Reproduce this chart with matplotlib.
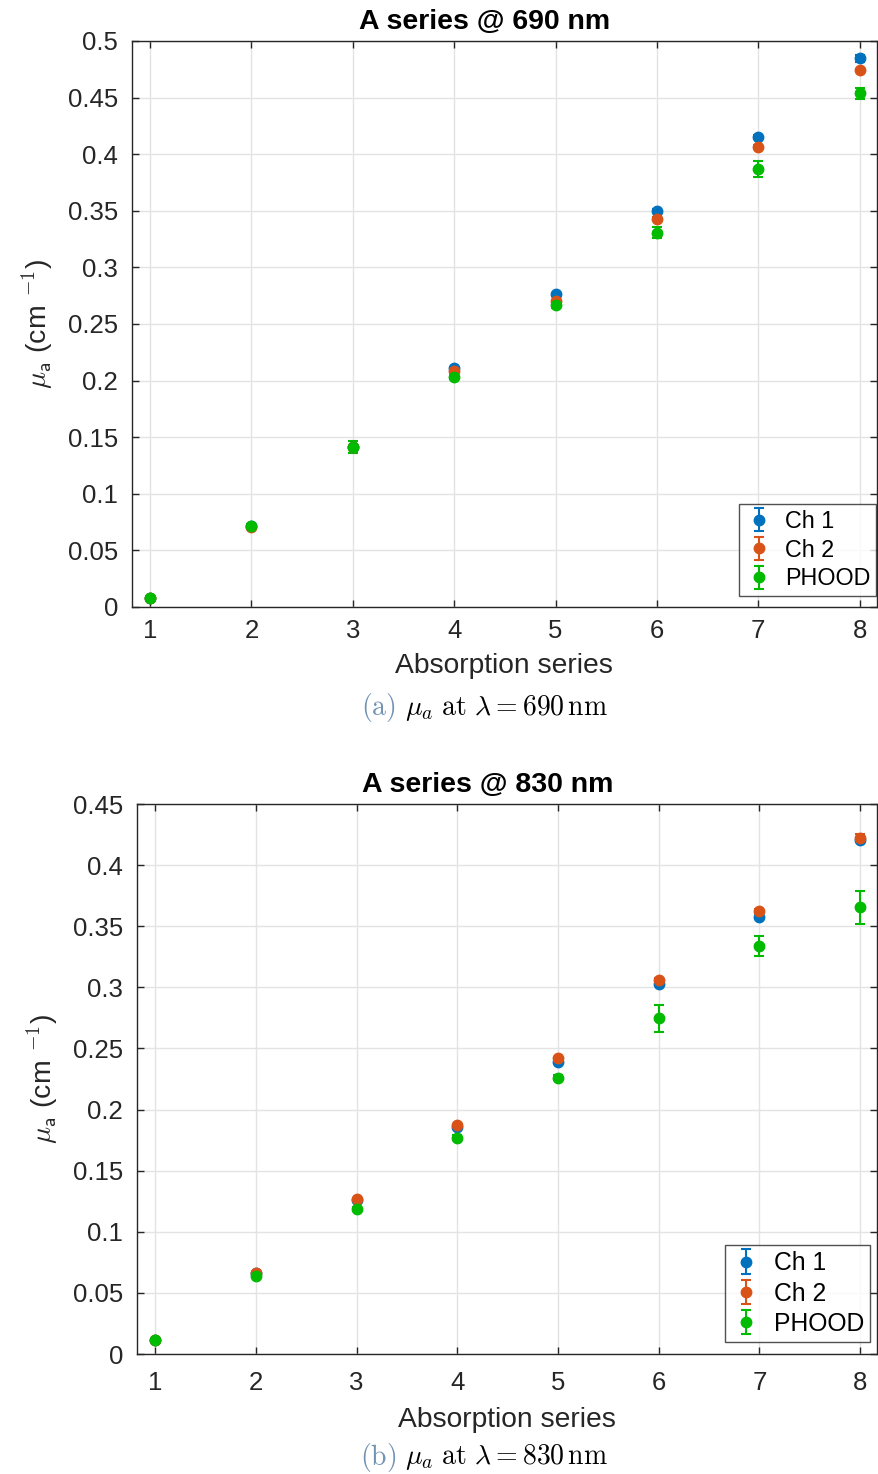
import numpy as np
import matplotlib
matplotlib.use("Agg")
import matplotlib.pyplot as plt
from matplotlib.ticker import FuncFormatter

plt.rcParams["font.family"] = ["Liberation Sans", "DejaVu Sans"]
plt.rcParams["mathtext.fontset"] = "cm"

series = [1, 2, 3, 4, 5, 6, 7, 8]
labels = ["Ch 1", "Ch 2", "PHOOD"]
colors = ["#0072BD", "#D95319", "#00BB00"]

# 690 nm
ch1_690 = [0.0082, 0.0716, 0.1413, 0.2108, 0.2762, 0.3500, 0.4155, 0.4847]
ch2_690 = [0.0080, 0.0707, 0.1410, 0.2088, 0.2703, 0.3430, 0.4066, 0.4740]
phood_690 = [0.0082, 0.0716, 0.1413, 0.2032, 0.2668, 0.3307, 0.3872, 0.4538]
ch1_690_err = [0.0005, 0.0008, 0.0010, 0.0010, 0.0012, 0.0012, 0.0015, 0.0030]
ch2_690_err = [0.0005, 0.0008, 0.0010, 0.0010, 0.0012, 0.0012, 0.0015, 0.0015]
phood_690_err = [0.0010, 0.0015, 0.0057, 0.0020, 0.0030, 0.0047, 0.0070, 0.0050]

# 830 nm
ch1_830 = [0.0112, 0.0660, 0.1260, 0.1855, 0.2392, 0.3031, 0.3580, 0.4206]
ch2_830 = [0.0112, 0.0666, 0.1268, 0.1874, 0.2422, 0.3060, 0.3625, 0.4225]
phood_830 = [0.0112, 0.0636, 0.1187, 0.1770, 0.2259, 0.2746, 0.3341, 0.3655]
ch1_830_err = [0.0005, 0.0008, 0.0010, 0.0010, 0.0012, 0.0015, 0.0020, 0.0020]
ch2_830_err = [0.0005, 0.0008, 0.0010, 0.0010, 0.0012, 0.0015, 0.0020, 0.0030]
phood_830_err = [0.0008, 0.0010, 0.0015, 0.0020, 0.0020, 0.0110, 0.0082, 0.0136]

fig = plt.figure(figsize=(8.79, 14.74), dpi=100)


def panel(rect, ys, errs, ymax, title, legend_anchor, legend_size,
          xpad, xlabelpad, titlepad):
    ax = fig.add_axes(rect)
    for y, e, c, lab in zip(ys, errs, colors, labels):
        ax.errorbar(series, y, yerr=e, fmt="o", color=c, ecolor=c,
                    markersize=7.5, capsize=3.5, elinewidth=1.5,
                    capthick=1.5, label=lab, zorder=3)
    ax.set_xlim(0.82, 8.17)
    ax.set_ylim(0, ymax)
    ax.set_xticks(series)
    ax.set_yticks(np.arange(0, ymax + 1e-9, 0.05))
    ax.yaxis.set_major_formatter(FuncFormatter(lambda v, p: "%g" % round(v, 2)))
    ax.grid(True, color="#e3e3e3", linewidth=1.0, zorder=0)
    ax.set_axisbelow(True)
    ax.tick_params(direction="in", length=5, width=1, top=True, right=True,
                   labelsize=18.5, colors="#262626")
    ax.tick_params(axis="y", pad=10)
    ax.tick_params(axis="x", pad=xpad)
    for s in ax.spines.values():
        s.set_color("#262626")
        s.set_linewidth(1)
    ax.set_title(title, fontsize=20.5, fontweight="bold", x=0.474, pad=titlepad)
    ax.set_xlabel("Absorption series", fontsize=20.3, color="#262626",
                  labelpad=xlabelpad)
    ax.set_ylabel(r"$\mu_{\mathsf{a}}$ (cm $^{\mathsf{-1}}$)", fontsize=20.5,
                  color="#262626", labelpad=9)
    leg = ax.legend(loc="lower right", bbox_to_anchor=legend_anchor,
                    fontsize=legend_size, frameon=True, fancybox=False,
                    borderpad=0.25, labelspacing=0.25, handletextpad=0.5,
                    handlelength=1.2, borderaxespad=0)
    leg.get_frame().set_edgecolor("#262626")
    leg.get_frame().set_linewidth(1)
    return ax


panel([0.150, 0.5882, 0.8476, 0.3840], [ch1_690, ch2_690, phood_690],
      [ch1_690_err, ch2_690_err, phood_690_err], 0.5,
      "A series @ 690 nm", (0.999, 0.019), 16.8, 9, 7, 8.5)
panel([0.1559, 0.0814, 0.8420, 0.3731], [ch1_830, ch2_830, phood_830],
      [ch1_830_err, ch2_830_err, phood_830_err], 0.45,
      "A series @ 830 nm", (0.9905, 0.022), 17.8, 12, 9, 9)

cap_color = "#7393b3"
fig.text(396 / 879, 1 - 708 / 1474, r"$\mathrm{(a)}$", color=cap_color,
         fontsize=20, ha="right", va="center")
fig.text(405 / 879, 1 - 708 / 1474,
         r"$\mu_a\ \mathrm{at}\ \lambda = 690\,\mathrm{nm}$",
         fontsize=20, ha="left", va="center")
fig.text(396 / 879, 1 - 1457 / 1474, r"$\mathrm{(b)}$", color=cap_color,
         fontsize=20, ha="right", va="center")
fig.text(405 / 879, 1 - 1457 / 1474,
         r"$\mu_a\ \mathrm{at}\ \lambda = 830\,\mathrm{nm}$",
         fontsize=20, ha="left", va="center")

fig.savefig("out.png", dpi=100)
